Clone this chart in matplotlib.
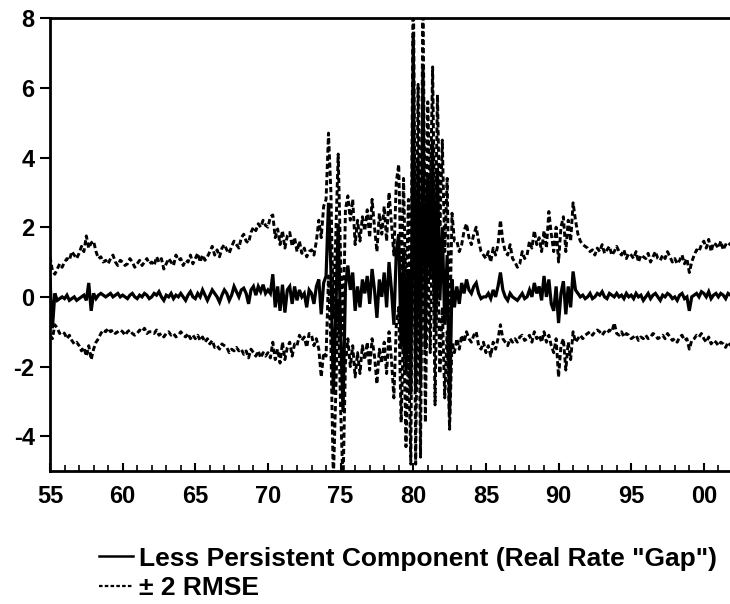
import numpy as np
import matplotlib
matplotlib.use("Agg")
import matplotlib.pyplot as plt
from matplotlib.lines import Line2D

plt.rcParams['font.family'] = ['Liberation Sans', 'DejaVu Sans']
plt.rcParams['font.weight'] = 'bold'
plt.rcParams['axes.unicode_minus'] = False

# bi-monthly observations, one row per year (1955 .. 2001)
start_year = 1955
per_year = 6

gap_rows = [
    [0.5, -0.9, 0.1, -0.1, -0.05, 0.0],        # 1955
    [-0.05, 0.05, -0.1, -0.05, 0.0, -0.1],     # 1956
    [-0.05, 0.0, 0.05, -0.1, 0.4, -0.4],       # 1957
    [0.1, -0.05, 0.05, 0.1, 0.05, 0.0],        # 1958
    [0.05, 0.1, 0.0, 0.05, 0.1, 0.0],          # 1959
    [0.05, 0.0, -0.05, 0.05, 0.1, 0.0],        # 1960
    [-0.05, 0.05, 0.0, 0.1, 0.05, -0.05],      # 1961
    [0.0, 0.1, 0.05, 0.15, 0.0, -0.1],         # 1962
    [0.05, 0.0, 0.1, -0.05, 0.05, 0.0],        # 1963
    [0.1, 0.0, -0.1, 0.05, 0.15, 0.0],         # 1964
    [-0.05, 0.1, 0.0, 0.2, 0.05, -0.1],        # 1965
    [0.05, 0.2, 0.1, 0.0, -0.15, 0.05],        # 1966
    [0.2, 0.1, -0.1, 0.05, 0.3, 0.15],         # 1967
    [0.0, 0.2, 0.25, 0.1, -0.2, 0.2],          # 1968
    [0.3, 0.05, 0.3, 0.15, 0.35, 0.1],         # 1969
    [0.2, 0.1, 0.65, -0.3, 0.3, -0.4],         # 1970
    [0.35, -0.45, 0.2, 0.3, -0.2, 0.3],        # 1971
    [-0.1, 0.2, 0.0, 0.1, -0.3, 0.2],          # 1972
    [0.1, -0.2, 0.3, 0.5, -0.5, 0.4],          # 1973
    [0.6, 2.7, 0.8, -2.8, -0.5, 2.1],          # 1974
    [-1.0, -3.3, 0.3, 0.9, 0.2, 0.7],          # 1975
    [-0.4, 0.3, -0.3, 0.5, 0.1, 0.6],          # 1976
    [-0.2, 0.8, 0.2, -0.6, 0.5, 0.0],          # 1977
    [0.7, -0.3, 1.0, 0.2, -0.8, 1.3],          # 1978
    [1.8, -1.5, 1.4, -2.2, 0.8, -2.8],         # 1979
    [7.5, -2.7, 4.0, -2.5, 6.6, -1.5],         # 1980
    [3.5, 0.5, 4.5, -1.0, 3.7, -0.1],          # 1981
    [2.0, -0.8, 1.2, -3.4, 0.5, -0.3],         # 1982
    [0.3, -0.2, 0.4, 0.1, 0.5, 0.2],           # 1983
    [0.1, 0.3, 0.4, 0.1, -0.05, 0.0],          # 1984
    [0.0, 0.1, -0.05, 0.2, 0.0, 0.3],          # 1985
    [0.7, 0.2, 0.0, -0.1, 0.1, 0.0],           # 1986
    [-0.05, -0.1, 0.0, 0.1, -0.05, 0.0],       # 1987
    [0.2, 0.0, 0.4, 0.1, 0.3, -0.1],           # 1988
    [0.6, 0.0, 0.5, -0.2, -0.4, 0.3],          # 1989
    [-0.75, 0.1, 0.45, -0.5, 0.3, -0.3],       # 1990
    [0.73, 0.2, 0.1, 0.0, 0.05, -0.05],        # 1991
    [0.0, 0.1, -0.05, 0.0, 0.1, 0.05],         # 1992
    [0.15, 0.0, -0.05, 0.1, 0.05, 0.0],        # 1993
    [0.1, 0.0, 0.05, -0.05, 0.1, 0.0],         # 1994
    [0.05, -0.05, 0.1, 0.0, 0.05, -0.1],       # 1995
    [0.0, 0.1, -0.05, 0.05, 0.1, 0.0],         # 1996
    [-0.1, 0.05, 0.0, 0.1, 0.05, -0.05],       # 1997
    [0.0, -0.1, 0.05, 0.1, -0.05, 0.0],        # 1998
    [-0.4, 0.0, 0.05, 0.1, 0.0, 0.15],         # 1999
    [0.1, 0.0, 0.15, -0.05, 0.05, 0.1],        # 2000
    [0.0, 0.1, 0.05, -0.05, 0.1, 0.05],        # 2001
]

upper_rows = [
    [1.15, 0.75, 0.65, 0.8, 0.95, 0.85],       # 1955
    [1.0, 1.1, 1.05, 1.3, 1.2, 1.1],           # 1956
    [1.25, 1.45, 1.3, 1.75, 1.4, 1.55],        # 1957
    [1.6, 1.3, 1.1, 1.15, 1.0, 1.05],          # 1958
    [0.95, 1.1, 1.2, 1.0, 0.9, 1.05],          # 1959
    [1.0, 0.9, 0.95, 1.1, 1.0, 0.85],          # 1960
    [0.95, 1.05, 0.9, 1.0, 1.1, 0.95],         # 1961
    [1.0, 0.9, 1.15, 1.0, 1.1, 0.8],           # 1962
    [0.95, 1.1, 1.0, 0.9, 1.2, 1.05],          # 1963
    [1.1, 0.9, 1.05, 1.0, 1.2, 0.95],          # 1964
    [1.1, 1.25, 1.0, 1.2, 1.05, 1.15],         # 1965
    [1.3, 1.45, 1.2, 1.35, 1.15, 1.4],         # 1966
    [1.5, 1.35, 1.25, 1.45, 1.6, 1.5],         # 1967
    [1.4, 1.7, 1.8, 1.6, 1.55, 1.85],          # 1968
    [2.0, 1.9, 2.1, 2.0, 2.2, 2.05],           # 1969
    [2.0, 2.3, 2.35, 1.7, 1.95, 1.5],          # 1970
    [1.9, 1.4, 1.75, 1.85, 1.45, 1.7],         # 1971
    [1.3, 1.6, 1.25, 1.4, 1.15, 1.3],          # 1972
    [1.35, 1.2, 1.6, 2.2, 1.7, 2.6],           # 1973
    [2.8, 4.7, 3.0, -0.6, 1.8, 4.1],           # 1974
    [1.1, -1.1, 2.5, 2.9, 2.2, 2.8],           # 1975
    [1.5, 2.2, 1.6, 2.3, 1.9, 2.5],            # 1976
    [1.7, 2.8, 2.0, 1.3, 2.4, 1.8],            # 1977
    [2.6, 1.6, 3.0, 2.1, 1.2, 3.3],            # 1978
    [3.8, 0.5, 3.4, -0.2, 2.8, -0.7],          # 1979
    [9.6, -0.6, 6.1, -0.4, 8.7, 0.6],          # 1980
    [5.6, 2.6, 6.6, 1.1, 5.8, 2.0],            # 1981
    [4.5, 1.3, 3.4, -1.2, 2.4, 1.6],           # 1982
    [1.6, 1.3, 1.5, 1.9, 2.1, 1.7],            # 1983
    [1.5, 1.8, 2.0, 1.6, 1.3, 1.2],            # 1984
    [1.1, 1.3, 1.0, 1.4, 1.2, 1.5],            # 1985
    [2.2, 1.6, 1.3, 1.2, 1.5, 1.1],            # 1986
    [1.0, 0.85, 0.95, 1.3, 1.1, 1.2],          # 1987
    [1.6, 1.4, 1.9, 1.5, 1.7, 1.3],            # 1988
    [1.9, 1.4, 2.45, 1.8, 1.3, 2.0],           # 1989
    [1.0, 2.0, 2.3, 1.3, 2.2, 1.6],            # 1990
    [2.7, 2.2, 1.8, 1.6, 1.5, 1.45],           # 1991
    [1.4, 1.3, 1.35, 1.2, 1.4, 1.3],           # 1992
    [1.5, 1.25, 1.35, 1.45, 1.2, 1.3],         # 1993
    [1.45, 1.3, 1.2, 1.35, 1.1, 1.25],         # 1994
    [1.2, 1.1, 1.3, 1.0, 1.2, 1.15],           # 1995
    [1.1, 1.25, 1.0, 1.15, 1.3, 1.1],          # 1996
    [1.05, 1.2, 1.1, 1.3, 1.15, 1.0],          # 1997
    [1.1, 0.95, 1.05, 1.2, 0.95, 1.1],         # 1998
    [0.7, 1.0, 1.2, 1.35, 1.3, 1.5],           # 1999
    [1.6, 1.4, 1.65, 1.3, 1.55, 1.5],          # 2000
    [1.4, 1.6, 1.35, 1.5, 1.45, 1.55],         # 2001
]

lower_rows = [
    [-1.1, -1.2, -0.8, -0.9, -1.05, -1.0],     # 1955
    [-1.05, -1.2, -1.1, -1.25, -1.35, -1.3],   # 1956
    [-1.4, -1.55, -1.45, -1.7, -1.4, -1.8],    # 1957
    [-1.5, -1.3, -1.2, -1.05, -0.95, -1.0],    # 1958
    [-0.9, -1.0, -0.95, -1.05, -1.0, -0.95],   # 1959
    [-1.0, -1.1, -1.0, -0.95, -1.05, -1.1],    # 1960
    [-1.05, -0.95, -1.0, -0.9, -1.05, -1.0],   # 1961
    [-1.0, -1.05, -0.95, -1.1, -1.05, -1.15],  # 1962
    [-1.05, -1.0, -1.1, -1.05, -1.15, -1.1],   # 1963
    [-1.0, -1.1, -1.15, -1.05, -1.2, -1.1],    # 1964
    [-1.2, -1.1, -1.25, -1.15, -1.3, -1.2],    # 1965
    [-1.35, -1.25, -1.45, -1.4, -1.5, -1.35],  # 1966
    [-1.4, -1.45, -1.6, -1.5, -1.55, -1.45],   # 1967
    [-1.55, -1.5, -1.65, -1.55, -1.75, -1.5],  # 1968
    [-1.6, -1.7, -1.55, -1.75, -1.6, -1.7],    # 1969
    [-1.6, -1.75, -1.3, -1.8, -1.5, -1.9],     # 1970
    [-1.3, -1.8, -1.45, -1.3, -1.7, -1.35],    # 1971
    [-1.4, -1.1, -1.25, -1.15, -1.45, -1.05],  # 1972
    [-1.1, -1.4, -1.2, -1.5, -2.3, -1.6],      # 1973
    [-1.7, 0.6, -1.4, -5.3, -2.8, -0.1],       # 1974
    [-3.2, -5.4, -1.9, -1.2, -2.0, -1.4],      # 1975
    [-2.3, -1.6, -2.2, -1.4, -1.8, -1.3],      # 1976
    [-2.1, -1.2, -1.7, -2.5, -1.5, -1.9],      # 1977
    [-1.3, -2.2, -1.0, -1.8, -2.9, -0.8],      # 1978
    [-0.3, -3.6, -0.7, -4.3, -1.3, -4.8],      # 1979
    [5.4, -4.8, 1.9, -4.6, 4.5, -3.6],         # 1980
    [1.4, -1.6, 2.4, -3.1, 1.6, -2.2],         # 1981
    [-0.3, -2.9, -1.0, -3.8, -1.3, -1.6],      # 1982
    [-1.2, -1.5, -1.1, -1.3, -1.0, -1.2],      # 1983
    [-1.3, -1.1, -1.0, -1.4, -1.5, -1.3],      # 1984
    [-1.6, -1.4, -1.7, -1.3, -1.5, -1.2],      # 1985
    [-0.8, -1.2, -1.3, -1.4, -1.2, -1.3],      # 1986
    [-1.2, -1.3, -1.15, -1.1, -1.25, -1.2],    # 1987
    [-1.1, -1.3, -1.0, -1.2, -1.1, -1.3],      # 1988
    [-1.0, -1.3, -1.1, -1.4, -1.6, -1.2],      # 1989
    [-2.3, -1.4, -1.2, -2.1, -1.3, -1.8],      # 1990
    [-1.0, -1.3, -1.2, -1.1, -1.2, -1.1],      # 1991
    [-1.05, -1.0, -1.1, -1.0, -0.95, -1.0],    # 1992
    [-1.1, -1.0, -1.05, -0.95, -1.0, -0.75],   # 1993
    [-1.05, -1.1, -1.0, -1.15, -1.05, -1.1],   # 1994
    [-1.2, -1.15, -1.1, -1.25, -1.15, -1.2],   # 1995
    [-1.1, -1.2, -1.15, -1.05, -1.1, -1.2],    # 1996
    [-1.15, -1.1, -1.2, -1.05, -1.15, -1.25],  # 1997
    [-1.2, -1.3, -1.15, -1.1, -1.25, -1.2],    # 1998
    [-1.5, -1.25, -1.2, -1.1, -1.15, -1.05],   # 1999
    [-1.2, -1.3, -1.15, -1.35, -1.25, -1.3],   # 2000
    [-1.4, -1.3, -1.35, -1.45, -1.3, -1.4],    # 2001
]

x_ticks = [1955, 1960, 1965, 1970, 1975, 1980, 1985, 1990, 1995, 2000]
x_tick_labels = ["55", "60", "65", "70", "75", "80", "85", "90", "95", "00"]
y_ticks = [-4, -2, 0, 2, 4, 6, 8]
labels = ['Less Persistent Component (Real Rate "Gap")', '\u00b1 2 RMSE']

gap = np.concatenate(gap_rows)
upper = np.concatenate(upper_rows)
lower = np.concatenate(lower_rows)
t = start_year + np.arange(len(gap)) / per_year

fig = plt.figure(figsize=(7.30, 6.04), dpi=100)
ax = fig.add_axes([0.0685, 0.220, 0.9315, 0.750])

ax.plot(t, gap, color='black', lw=2.3, solid_joinstyle='miter')
dash = (0, (1.8, 1.0))
ax.plot(t, upper, color='black', lw=2.1, linestyle=dash)
ax.plot(t, lower, color='black', lw=2.1, linestyle=dash)

ax.set_xlim(1955, 2001.8)
ax.set_ylim(-5, 8)

for s in ['left', 'bottom', 'top']:
    ax.spines[s].set_linewidth(2.0)
ax.spines['right'].set_visible(False)

ax.set_xticks(x_ticks)
ax.set_xticklabels(x_tick_labels)
ax.set_xticks(np.arange(1956, 2002), minor=True)
ax.tick_params(axis='x', which='major', direction='in', length=6, width=1.5,
               pad=10, labelsize=17, top=False)
ax.tick_params(axis='x', which='minor', direction='in', length=4, width=1.2, top=False)
ax.set_yticks(y_ticks)
ax.tick_params(axis='y', which='major', direction='out', length=7, width=1.5,
               pad=4, labelsize=17, right=False)

handles = [Line2D([], [], color='black', lw=1.8),
           Line2D([], [], color='black', lw=1.6, linestyle=(0, (1.6, 1.0)))]
fig.legend(handles, labels, loc='upper left', bbox_to_anchor=(0.135, 0.095),
           frameon=False, handlelength=1.3, handletextpad=0.25,
           labelspacing=0.22, borderpad=0, borderaxespad=0,
           prop={'weight': 'bold', 'size': 19})

fig.savefig('out.png', dpi=100)
